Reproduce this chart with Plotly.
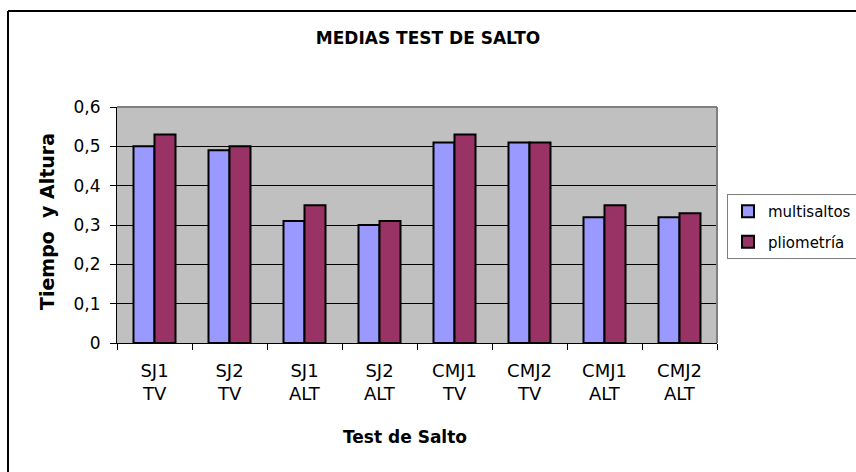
import plotly.graph_objects as go

categories = ["SJ1 TV", "SJ2 TV", "SJ1 ALT", "SJ2 ALT",
              "CMJ1 TV", "CMJ2 TV", "CMJ1 ALT", "CMJ2 ALT"]
tick_line1 = ["SJ1", "SJ2", "SJ1", "SJ2", "CMJ1", "CMJ2", "CMJ1", "CMJ2"]
tick_line2 = ["TV", "TV", "ALT", "ALT", "TV", "TV", "ALT", "ALT"]
multisaltos = [0.50, 0.49, 0.31, 0.30, 0.51, 0.51, 0.32, 0.32]
pliometria = [0.53, 0.50, 0.35, 0.31, 0.53, 0.51, 0.35, 0.33]
y_ticks = [0, 0.1, 0.2, 0.3, 0.4, 0.5, 0.6]
y_ticklabels = ["0", "0,1", "0,2", "0,3", "0,4", "0,5", "0,6"]

FONT = "DejaVu Sans, Liberation Sans, Arial, sans-serif"

# plot-area pixel frame
L, R, T, B = 117, 717, 107, 343
W, H = 856, 472
PW, PH = R - L, B - T


def px_x(p):
    return (p - L) / PW


def px_y(p):
    return (B - p) / PH


fig = go.Figure()
fig.add_trace(go.Bar(x=categories, y=multisaltos, name="multisaltos", legendgroup="a",
                     marker=dict(color="#9999FF", line=dict(color="black", width=2))))
fig.add_trace(go.Bar(x=categories, y=pliometria, name="pliometría", legendgroup="b",
                     marker=dict(color="#993366", line=dict(color="black", width=2))))

annotations = [
    dict(text="<b>Tiempo &nbsp;y Altura</b>", xref="paper", yref="paper",
         x=px_x(47), y=px_y(222), xanchor="center", yanchor="middle",
         textangle=-90, showarrow=False, font=dict(size=19, family=FONT, color="black")),
    dict(text="<b>Test de Salto</b>", xref="paper", yref="paper",
         x=px_x(405), y=px_y(437), xanchor="center", yanchor="middle",
         showarrow=False, font=dict(size=17, family=FONT, color="black")),
]
for c, t in zip(categories, tick_line2):
    annotations.append(dict(text=t, x=c, xref="x", y=0, yref="paper",
                            xanchor="center", yanchor="top", yshift=-38,
                            showarrow=False, font=dict(size=18, family=FONT, color="black")))

fig.update_layout(
    template="none",
    width=W, height=H,
    margin=dict(l=L, r=W - R, t=T, b=H - B, autoexpand=False),
    paper_bgcolor="white",
    plot_bgcolor="#C0C0C0",
    font=dict(family=FONT, color="black", size=16),
    barmode="group",
    bargap=0.44,
    bargroupgap=0,
    showlegend=True,
    title=dict(text="<b>MEDIAS TEST DE SALTO</b>", x=0.5, xanchor="center",
               y=1 - 38 / H, yanchor="middle", font=dict(size=17, family=FONT)),
    legend=dict(x=px_x(727), y=px_y(194), xanchor="left", yanchor="top",
                bordercolor="#808080", borderwidth=1, bgcolor="white",
                font=dict(size=15, family=FONT), itemsizing="constant",
                traceorder="grouped", tracegroupgap=8),
    xaxis=dict(
        type="category", automargin=False,
        tickvals=categories, ticktext=tick_line1,
        showline=True, linecolor="black", linewidth=1,
        ticks="outside", tickson="boundaries", ticklen=6, tickcolor="black",
        showgrid=False, tickfont=dict(size=18, family=FONT),
        ticklabelstandoff=11,
    ),
    yaxis=dict(
        automargin=False,
        range=[0, 0.6],
        tickvals=y_ticks, ticktext=y_ticklabels,
        showline=True, linecolor="black", linewidth=1,
        ticks="outside", ticklen=6, tickcolor="black",
        showgrid=True, gridcolor="black", gridwidth=1,
        zeroline=False, tickfont=dict(size=17, family=FONT),
        ticklabelstandoff=6,
    ),
    annotations=annotations,
    shapes=[
        dict(type="line", xref="paper", yref="paper", x0=0, x1=1, y0=1, y1=1,
             line=dict(color="#808080", width=2)),
        dict(type="line", xref="paper", yref="paper", x0=1, x1=1, y0=0, y1=1,
             line=dict(color="#808080", width=2)),
        dict(type="line", xref="paper", yref="paper", x0=px_x(8), x1=px_x(8),
             y0=px_y(H), y1=px_y(11), line=dict(color="black", width=2)),
        dict(type="line", xref="paper", yref="paper", x0=px_x(8), x1=px_x(W),
             y0=px_y(11), y1=px_y(11), line=dict(color="black", width=2)),
    ],
)

fig.write_html("out.html", config={"displayModeBar": False},
               post_script="document.body.style.margin='0';document.body.style.overflow='hidden';")
